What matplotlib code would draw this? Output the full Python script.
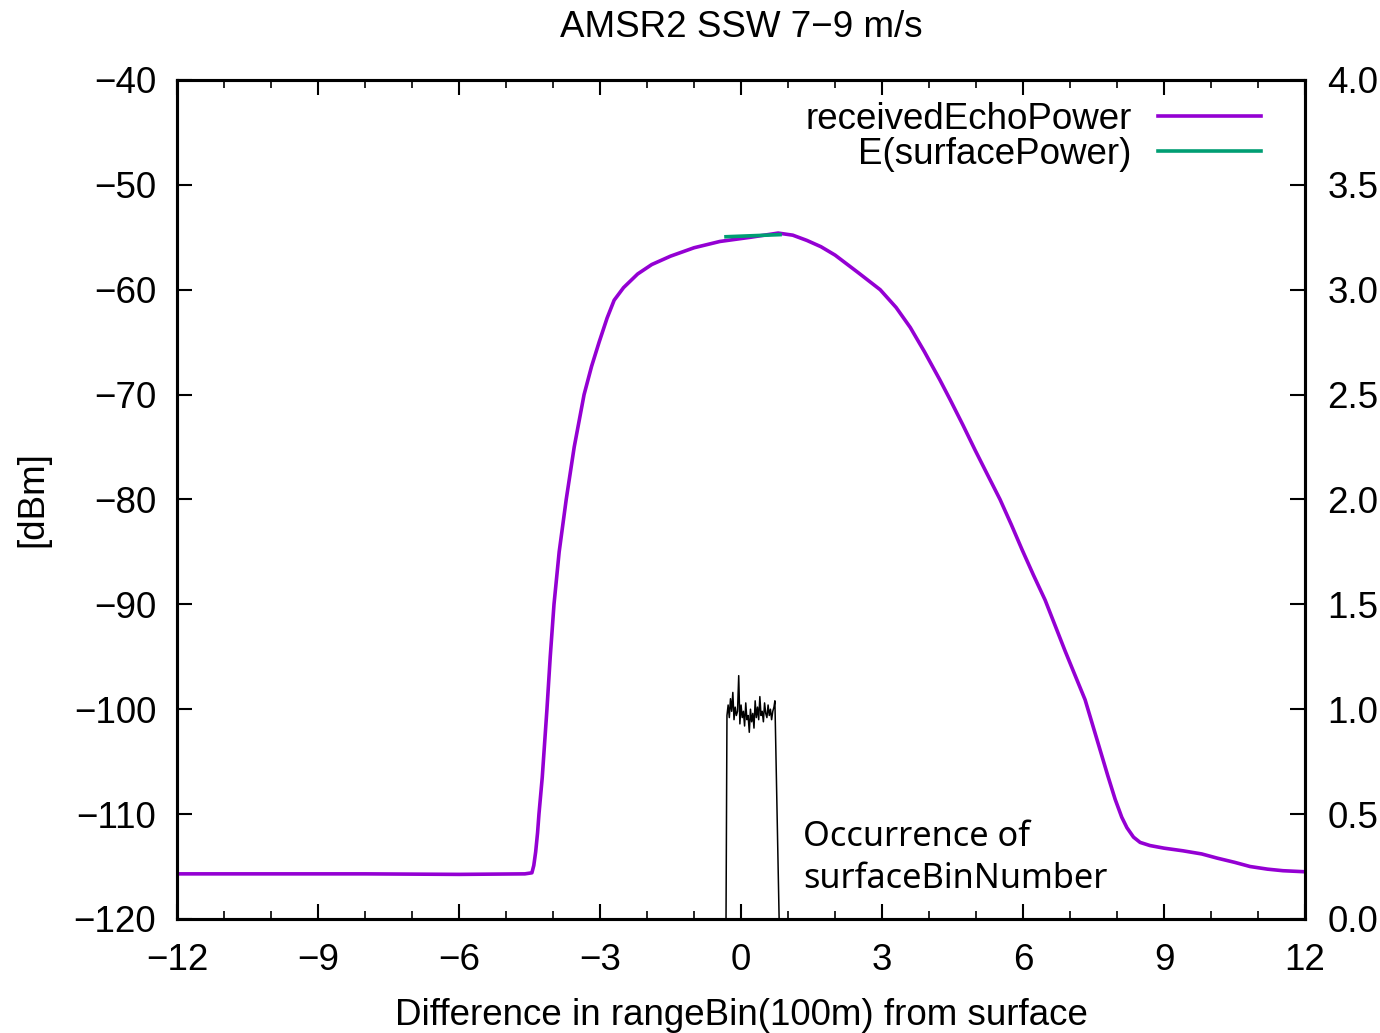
import numpy as np
import matplotlib.pyplot as plt

plt.rcParams['font.family'] = ['Liberation Sans', 'DejaVu Sans']
plt.rcParams['axes.unicode_minus'] = True

# receivedEchoPower (dBm) vs range bin difference
echo_x = [-12, -8, -6, -4.6, -4.45, -4.41, -4.37, -4.33, -4.3, -4.23, -4.13, -4.06,
          -3.98, -3.87, -3.72, -3.55, -3.34, -3.18, -3.02, -2.85, -2.7, -2.5, -2.2,
          -1.9, -1.5, -1.0, -0.45, 0.2, 0.79, 1.1, 1.4, 1.7, 2.0, 2.5, 2.96, 3.3,
          3.6, 3.9, 4.23, 4.45, 4.72, 4.98, 5.25, 5.51, 5.75, 5.98, 6.22, 6.47,
          6.68, 6.89, 7.1, 7.32, 7.48, 7.64, 7.8, 7.96, 8.1, 8.21, 8.35, 8.49,
          8.7, 9.0, 9.4, 9.8, 10.13, 10.5, 10.83, 11.2, 11.53, 12]
echo_y = [-115.7, -115.7, -115.75, -115.7, -115.6, -114.9, -113.6, -111.8, -110.0,
          -106.5, -100.0, -95.0, -90.0, -85.0, -80.0, -75.0, -70.0, -67.3, -65.0,
          -62.7, -61.0, -59.8, -58.5, -57.6, -56.8, -56.0, -55.4, -55.0, -54.6,
          -54.8, -55.3, -55.9, -56.7, -58.4, -60.0, -61.7, -63.6, -65.9, -68.6,
          -70.5, -72.9, -75.3, -77.7, -80.0, -82.4, -84.8, -87.2, -89.6, -92.0,
          -94.4, -96.7, -99.1, -101.5, -103.9, -106.3, -108.6, -110.3, -111.3,
          -112.2, -112.7, -113.0, -113.25, -113.5, -113.8, -114.2, -114.6, -115.0,
          -115.25, -115.4, -115.5]

# E(surfacePower)
surf_x = [-0.32, 0.83]
surf_y = [-54.95, -54.75]

# occurrence of surfaceBinNumber (right axis)
hist_x = [-12, -0.32, -0.30, -0.275, -0.25, -0.225, -0.20, -0.175, -0.15, -0.125,
          -0.10, -0.075, -0.05, -0.025, 0.0, 0.025, 0.05, 0.075, 0.10, 0.125,
          0.15, 0.175, 0.20, 0.225, 0.25, 0.275, 0.30, 0.325, 0.35, 0.375, 0.40,
          0.425, 0.45, 0.475, 0.50, 0.525, 0.55, 0.575, 0.60, 0.625, 0.65, 0.675,
          0.70, 0.72, 0.81, 12]
hist_y = [0, 0, 0.97, 1.02, 0.96, 1.05, 0.99, 1.08, 0.95, 1.01, 0.97, 0.99, 1.16,
          0.93, 1.02, 0.96, 0.99, 0.92, 1.03, 0.95, 0.97, 0.89, 1.00, 0.94, 0.98,
          0.91, 1.04, 0.96, 1.01, 0.95, 1.06, 0.97, 0.99, 0.94, 1.03, 0.98, 0.96,
          1.02, 0.97, 1.00, 0.95, 0.99, 1.01, 1.04, 0, 0]

fs = 26.5

fig = plt.figure(figsize=(13.8, 10.33), dpi=100)
ax = fig.add_axes([0.1283, 0.1104, 0.8174, 0.8122])
ax2 = ax.twinx()

ax2.plot(hist_x, hist_y, color='black', linewidth=1.1)
ax.plot(echo_x, echo_y, color='#9400D3', linewidth=2.6, label='receivedEchoPower')
ax.plot(surf_x, surf_y, color='#009E73', linewidth=2.6, label='E(surfacePower)')
ax.set_zorder(ax2.get_zorder() + 1)
ax.patch.set_visible(False)

ax.set_xlim(-12, 12)
ax.set_ylim(-120, -40)
ax2.set_ylim(0, 4.0)
ax.set_xticks(np.arange(-12, 13, 3))
ax.set_xticks(np.arange(-12, 13, 1), minor=True)
ax.set_yticks(np.arange(-120, -39, 10))
ax2.set_yticks(np.arange(0, 4.01, 0.5))
ax2.set_yticklabels(['%.1f' % v for v in np.arange(0, 4.01, 0.5)])

ax.tick_params(axis='both', which='major', direction='in', length=11, width=1.5,
               labelsize=fs, top=True, right=False)
ax.tick_params(axis='x', which='major', pad=17)
ax.tick_params(axis='y', which='major', pad=15)
ax.tick_params(axis='x', which='minor', direction='in', length=6, width=1.2, top=True)
ax2.tick_params(axis='y', direction='in', length=11, width=1.5, labelsize=fs, pad=16)
for a in (ax, ax2):
    for s in a.spines.values():
        s.set_linewidth(2.2)

ax.set_title('AMSR2 SSW 7\u22129 m/s', fontsize=fs, pad=31)
ax.set_xlabel('Difference in rangeBin(100m) from surface', fontsize=fs, labelpad=15)
ax.set_ylabel('[dBm]', fontsize=fs, labelpad=17)

ax.legend(loc='upper right', frameon=False, fontsize=fs, markerfirst=False,
          handlelength=2.8, labelspacing=0.0, handletextpad=0.7,
          bbox_to_anchor=(0.99, 1.013))

ax.text(1.32, -114.2, 'Occurrence of\nsurfaceBinNumber', fontsize=24.7,
        family=['Noto Sans', 'DejaVu Sans'], va='center', ha='left', linespacing=1.3)

fig.savefig('out.png', dpi=100)
